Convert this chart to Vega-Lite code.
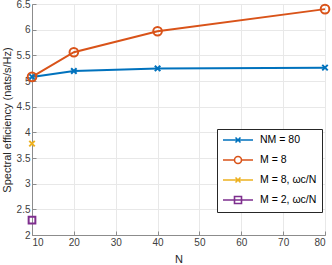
{
  "$schema": "https://vega.github.io/schema/vega-lite/v6.json",
  "autosize": "none",
  "width": 293,
  "height": 231,
  "padding": {"left": 32, "top": 4, "right": 7, "bottom": 30},
  "background": "white",
  "config": {
    "font": "Liberation Sans",
    "view": {"stroke": "#8c8c8c", "strokeWidth": 1},
    "axis": {
      "labelFont": "Liberation Sans",
      "labelFontSize": 10,
      "labelColor": "#404040",
      "titleFont": "Liberation Sans",
      "titleFontSize": 11,
      "titleFontWeight": "normal",
      "titleColor": "#262626",
      "domainColor": "#8c8c8c",
      "tickColor": "#8c8c8c",
      "gridColor": "#e8e8e8",
      "gridWidth": 1,
      "tickSize": -4
    },
    "legend": {
      "labelFont": "Liberation Sans",
      "labelFontSize": 10.5,
      "labelColor": "#000000"
    }
  },
  "data": {
    "values": [
      {"N": 10, "SE": 5.08, "series": "NM = 80"},
      {"N": 20, "SE": 5.195, "series": "NM = 80"},
      {"N": 40, "SE": 5.245, "series": "NM = 80"},
      {"N": 80, "SE": 5.26, "series": "NM = 80"},
      {"N": 10, "SE": 5.08, "series": "M = 8"},
      {"N": 20, "SE": 5.56, "series": "M = 8"},
      {"N": 40, "SE": 5.97, "series": "M = 8"},
      {"N": 80, "SE": 6.4, "series": "M = 8"},
      {"N": 10, "SE": 3.78, "series": "M = 8, ωc/N"},
      {"N": 10, "SE": 2.29, "series": "M = 2, ωc/N"}
    ]
  },
  "encoding": {
    "x": {"field": "N", "type": "quantitative", "axis": null, "scale": {"domain": [10, 80], "nice": false, "zero": false}},
    "y": {"field": "SE", "type": "quantitative", "axis": null, "scale": {"domain": [2, 6.5], "nice": false, "zero": false}}
  },
  "layer": [
    {
      "transform": [{"filter": "datum.series === 'NM = 80'"}],
      "mark": {"type": "line", "strokeWidth": 2, "color": "#0072BD"},
      "encoding": {
        "x": {"field": "N", "type": "quantitative", "axis": {"title": "N", "values": [10, 20, 30, 40, 50, 60, 70, 80], "grid": true, "labelPadding": 6, "titlePadding": 6}},
        "y": {"field": "SE", "type": "quantitative", "axis": {"title": "Spectral efficiency (nats/s/Hz)", "values": [2, 2.5, 3, 3.5, 4, 4.5, 5, 5.5, 6, 6.5], "format": "~g", "grid": true, "labelPadding": 6, "titlePadding": 4}}
      }
    },
    {
      "transform": [{"filter": "datum.series === 'M = 8'"}],
      "mark": {"type": "line", "strokeWidth": 2, "color": "#D95319"}
    },
    {
      "transform": [{"filter": "datum.series === 'NM = 80'"}],
      "mark": {"type": "point", "shape": "M-1,-1L1,1M-1,1L1,-1", "size": 30, "strokeWidth": 2, "filled": false, "opacity": 1, "color": "#0072BD"}
    },
    {
      "transform": [{"filter": "datum.series === 'M = 8, ωc/N'"}],
      "mark": {"type": "point", "shape": "M-1,-1L1,1M-1,1L1,-1", "size": 30, "strokeWidth": 2, "filled": false, "opacity": 1, "color": "#EDB120"}
    },
    {
      "transform": [{"filter": "datum.series === 'M = 8'"}],
      "mark": {"type": "point", "shape": "circle", "size": 75, "strokeWidth": 2, "filled": false, "opacity": 1, "color": "#D95319"}
    },
    {
      "transform": [{"filter": "datum.series === 'M = 2, ωc/N'"}],
      "mark": {"type": "point", "shape": "square", "size": 45, "strokeWidth": 2, "filled": false, "opacity": 1, "color": "#7E2F8E"}
    },
    {
      "mark": {"type": "point", "filled": false, "opacity": 0, "strokeWidth": 1.5},
      "encoding": {
        "color": {"field": "series", "type": "nominal",
          "scale": {"domain": ["NM = 80", "M = 8", "M = 8, ωc/N", "M = 2, ωc/N"], "range": ["#0072BD", "#D95319", "#EDB120", "#7E2F8E"]},
          "legend": {"title": null, "orient": "none", "legendX": 185, "legendY": 125, "symbolOpacity": 1, "symbolSize": 100, "symbolOffset": 10, "symbolStrokeWidth": 1.6, "fillColor": "white", "strokeColor": "#262626", "padding": 5, "rowPadding": 7, "labelOffset": 16}},
        "shape": {"field": "series", "type": "nominal",
          "scale": {"domain": ["NM = 80", "M = 8", "M = 8, ωc/N", "M = 2, ωc/N"],
            "range": ["M-3,0H3M-0.5,-0.5L0.5,0.5M-0.5,0.5L0.5,-0.5", "M-3,0H-0.7M0.7,0H3M0.7,0A0.7,0.7 0 1 1 -0.7,0A0.7,0.7 0 1 1 0.7,0Z", "M-3,0H3M-0.5,-0.5L0.5,0.5M-0.5,0.5L0.5,-0.5", "M-3,0H3M-0.7,-0.7H0.7V0.7H-0.7Z"]}}
      }
    }
  ],
  "resolve": {"axis": {"x": "independent", "y": "independent"}}
}
